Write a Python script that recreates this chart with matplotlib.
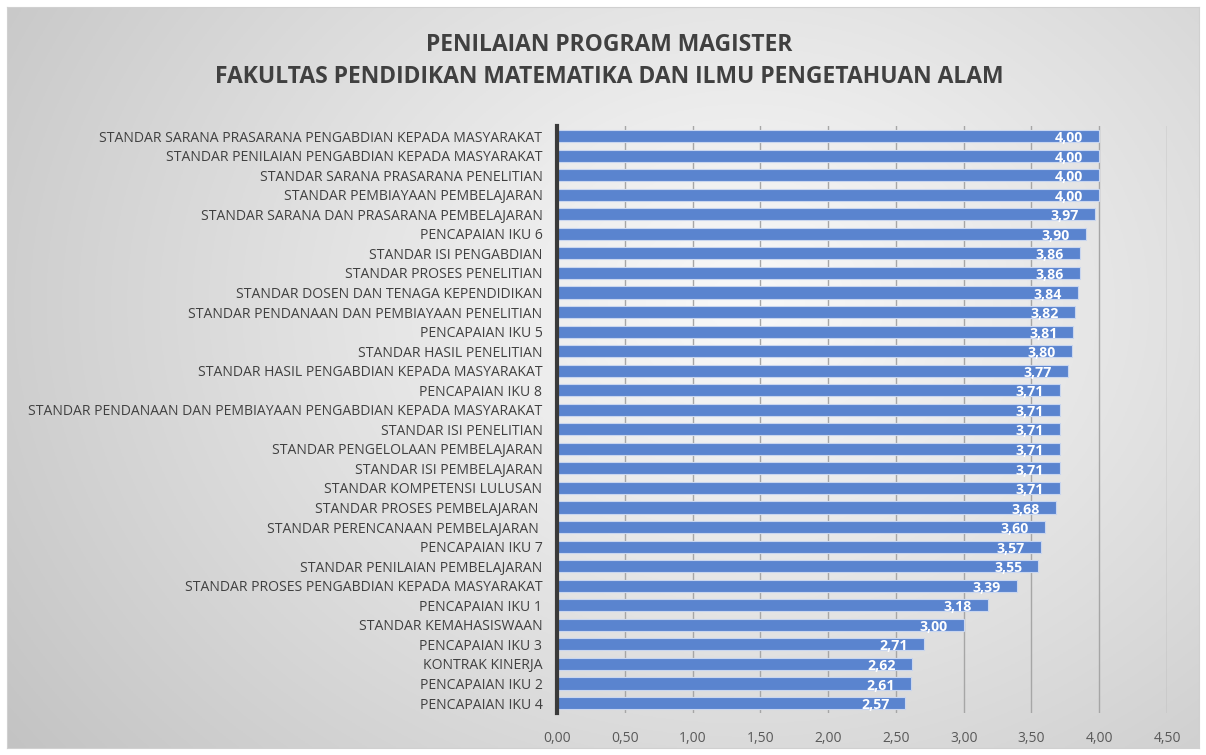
import numpy as np
import matplotlib
matplotlib.use("Agg")
import matplotlib.pyplot as plt
from matplotlib.ticker import FuncFormatter

categories = [
    "STANDAR SARANA PRASARANA PENGABDIAN KEPADA MASYARAKAT",
    "STANDAR PENILAIAN PENGABDIAN KEPADA MASYARAKAT",
    "STANDAR SARANA PRASARANA PENELITIAN",
    "STANDAR PEMBIAYAAN PEMBELAJARAN",
    "STANDAR SARANA DAN PRASARANA PEMBELAJARAN",
    "PENCAPAIAN IKU 6",
    "STANDAR ISI PENGABDIAN",
    "STANDAR PROSES PENELITIAN",
    "STANDAR DOSEN DAN TENAGA KEPENDIDIKAN",
    "STANDAR PENDANAAN DAN PEMBIAYAAN PENELITIAN",
    "PENCAPAIAN IKU 5",
    "STANDAR HASIL PENELITIAN",
    "STANDAR HASIL PENGABDIAN KEPADA MASYARAKAT",
    "PENCAPAIAN IKU 8",
    "STANDAR PENDANAAN DAN PEMBIAYAAN PENGABDIAN KEPADA MASYARAKAT",
    "STANDAR ISI PENELITIAN",
    "STANDAR PENGELOLAAN PEMBELAJARAN",
    "STANDAR ISI PEMBELAJARAN",
    "STANDAR KOMPETENSI LULUSAN",
    "STANDAR PROSES PEMBELAJARAN ",
    "STANDAR PERENCANAAN PEMBELAJARAN ",
    "PENCAPAIAN IKU 7",
    "STANDAR PENILAIAN PEMBELAJARAN",
    "STANDAR PROSES PENGABDIAN KEPADA MASYARAKAT",
    "PENCAPAIAN IKU 1",
    "STANDAR KEMAHASISWAAN",
    "PENCAPAIAN IKU 3",
    "KONTRAK KINERJA",
    "PENCAPAIAN IKU 2",
    "PENCAPAIAN IKU 4",
]
values = [4.00, 4.00, 4.00, 4.00, 3.97, 3.90, 3.86, 3.86, 3.84, 3.82,
          3.81, 3.80, 3.77, 3.71, 3.71, 3.71, 3.71, 3.71, 3.71, 3.68,
          3.60, 3.57, 3.55, 3.39, 3.18, 3.00, 2.71, 2.62, 2.61, 2.57]
x_ticks = [0, 0.5, 1.0, 1.5, 2.0, 2.5, 3.0, 3.5, 4.0, 4.5]
title_lines = ["PENILAIAN PROGRAM MAGISTER",
               "FAKULTAS PENDIDIKAN MATEMATIKA DAN ILMU PENGETAHUAN ALAM"]

W, H = 1206, 755
fig = plt.figure(figsize=(W / 100, H / 100), dpi=100)
fig.patch.set_facecolor("white")

# background gradient panel
bg = fig.add_axes([7 / W, 7 / H, (W - 14) / W, (H - 14) / H])
yy, xx = np.mgrid[0:1:300j, 0:1:500j]
cx, cy = 0.62, 0.40
d = np.sqrt(((xx - cx) * 1.3) ** 2 + ((yy - cy) * 1.0) ** 2)
d = d / d.max()
shade = 0.975 - 0.21 * d ** 1.1
img = np.dstack([shade, shade, shade])
bg.imshow(img, aspect="auto", extent=[0, 1, 0, 1], origin="upper")
bg.set_xticks([]); bg.set_yticks([])
for s in bg.spines.values():
    s.set_color("#d0d0d0"); s.set_linewidth(0.8)
bg.set_zorder(0)

font = "Open Sans"
ax = fig.add_axes([557 / W, 1 - 712.8 / H, (1167 - 557) / W, 586.5 / H])
ax.set_facecolor("none")
ax.set_zorder(1)
n = len(categories)
ypos = np.arange(n)
bars = ax.barh(ypos, values, height=0.62, color="#5A84CF", edgecolor="#c9d6ef",
               linewidth=0.8, zorder=3)
ax.set_ylim(n - 0.5, -0.5)
ax.set_xlim(0, 4.5)
ax.set_xticks(x_ticks)
ax.xaxis.set_major_formatter(FuncFormatter(lambda v, p: f"{v:.2f}".replace(".", ",")))
ax.set_yticks(ypos)
ax.set_yticklabels(categories, fontsize=10.1, color="#404040", family=font)
for lab in ax.get_xticklabels():
    lab.set_fontsize(10); lab.set_color("#595959"); lab.set_family(font)
ax.tick_params(axis="both", length=0)
ax.tick_params(axis="x", pad=13)
ax.tick_params(axis="y", pad=10.5)
ax.grid(axis="x", color="#a6a6a6", linewidth=1.0, zorder=1)
ax.set_axisbelow(True)
for k in ["top", "right", "bottom"]:
    ax.spines[k].set_visible(False)
ax.spines["left"].set_color("#3a3a3a")
ax.spines["left"].set_linewidth(3)
ax.spines["left"].set_zorder(4)

for y, v in zip(ypos, values):
    ax.annotate(f"{v:.2f}".replace(".", ","), xy=(v, y), xytext=(-11.5, -1.5),
                textcoords="offset points", ha="right", va="center",
                color="white", fontsize=10.2, fontweight="bold", family=font, zorder=5)

fig.text(609 / W, 1 - 45 / H, title_lines[0], ha="center", va="center",
         fontsize=16.5, fontweight="bold", color="#404040", family=font)
fig.text(609 / W, 1 - 77 / H, title_lines[1], ha="center", va="center",
         fontsize=16.5, fontweight="bold", color="#404040", family=font)

fig.savefig("out.png", dpi=100)
